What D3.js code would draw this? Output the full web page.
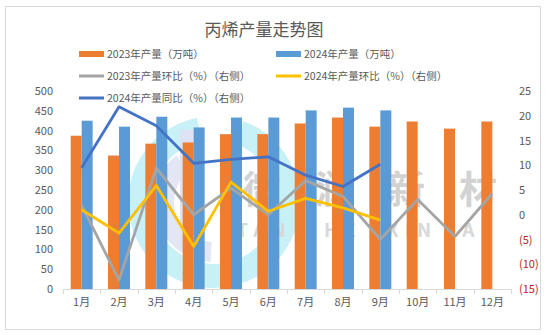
<!DOCTYPE html>
<html><head><meta charset="utf-8">
<script src="https://cdn.jsdelivr.net/npm/d3@7/dist/d3.min.js"></script>
<style>body{margin:0;background:#fff;}svg{display:block;font-family:"Noto Sans CJK SC","Noto Sans",sans-serif;}</style>
</head><body>
<svg id="c" width="546" height="335"></svg>
<script>
const months = ["1月","2月","3月","4月","5月","6月","7月","8月","9月","10月","11月","12月"];
const prod2023 = [387,337,367,370,391,391,418,433,410,423,405,423];
const prod2024 = [425,410,435,408,433,433,451,458,451];
const mom2023 = [1.9,-13.2,9.4,0,5.4,0,6.9,3.7,-5.0,3.1,-4.4,4.3];
const mom2024 = [1.0,-3.7,5.9,-6.4,6.6,0.7,3.3,1.4,-1.1];
const yoy2024 = [9.5,21.8,18.0,10.4,11.2,11.7,8.0,5.7,10.2];
const leftTicks = [0,50,100,150,200,250,300,350,400,450,500];
const rightTicks = [-15,-10,-5,0,5,10,15,20,25];

const svg = d3.select("#c");
const txt = "#595959";
svg.append("rect").attr("x",5.5).attr("y",6.5).attr("width",535).attr("height",323)
  .attr("fill","#fff").attr("stroke","#d9d9d9");

const x = d3.scaleBand().domain(months).range([63,511]);
const x1 = d3.scaleBand().domain(["a","b"]).range([0,x.bandwidth()]).paddingInner(0).paddingOuter(0.7);
const yL = d3.scaleLinear().domain([0,500]).range([289,91]);
const yR = d3.scaleLinear().domain([-15,25]).range([289,91]);

// watermark
const wm = svg.append("g");
wm.append("path").attr("transform","translate(214,202)")
  .attr("d", d3.arc().innerRadius(62).outerRadius(86).startAngle(0.35).endAngle(2*Math.PI-0.2)())
  .attr("fill","#c8f0f7");
wm.append("path").attr("transform","translate(214,202)")
  .attr("d", d3.arc().innerRadius(40).outerRadius(60).startAngle(3.2).endAngle(5.6)())
  .attr("fill","#e2e6f5");
wm.append("rect").attr("x",180).attr("y",130).attr("width",14).attr("height",120).attr("fill","#dde2f4");
const wmChars = ["微","润","新","材"];
wm.selectAll("text.wc").data(wmChars).join("text").attr("class","wc")
  .attr("x",(d,i)=>262+i*72).attr("y",203).attr("text-anchor","middle")
  .attr("font-size",38).attr("font-weight","bold").attr("fill","#d2d2d2").text(d=>d);
const wmWords = ["TAN","HE","XIN","CA"];
wm.selectAll("text.ww").data(wmWords).join("text").attr("class","ww")
  .attr("x",(d,i)=>[264,343,412,462][i]).attr("y",237).attr("text-anchor","middle")
  .attr("font-size",19).attr("font-weight","bold").attr("fill","#d8d8d8")
  .attr("letter-spacing",6).text(d=>d);

// bars
svg.append("g").selectAll("rect").data(prod2023).join("rect")
  .attr("x",(d,i)=>x(months[i])+x1("a")).attr("width",x1.bandwidth())
  .attr("y",d=>yL(d)).attr("height",d=>yL(0)-yL(d)).attr("fill","#ED7D31");
svg.append("g").selectAll("rect").data(prod2024).join("rect")
  .attr("x",(d,i)=>x(months[i])+x1("b")).attr("width",x1.bandwidth())
  .attr("y",d=>yL(d)).attr("height",d=>yL(0)-yL(d)).attr("fill","#5B9BD5");

// axis line & ticks
svg.append("line").attr("x1",63).attr("x2",511).attr("y1",289.5).attr("y2",289.5).attr("stroke","#d9d9d9");
svg.append("g").selectAll("line").data(d3.range(13)).join("line")
  .attr("x1",i=>Math.round(63+i*x.step())+0.5).attr("x2",i=>Math.round(63+i*x.step())+0.5)
  .attr("y1",289).attr("y2",294).attr("stroke","#d9d9d9");
svg.append("g").selectAll("text").data(months).join("text")
  .attr("x",d=>x(d)+x.bandwidth()/2).attr("y",306).attr("text-anchor","middle")
  .attr("font-size",11).attr("fill",txt).text(d=>d);

// lines
const line = data => d3.line().x((d,i)=>x(months[i])+x.bandwidth()/2).y(d=>yR(d))(data);
svg.append("path").attr("d",line(mom2023)).attr("fill","none").attr("stroke","#A5A5A5").attr("stroke-width",2.8).attr("stroke-linejoin","round");
svg.append("path").attr("d",line(mom2024)).attr("fill","none").attr("stroke","#FFC000").attr("stroke-width",2.8).attr("stroke-linejoin","round");
svg.append("path").attr("d",line(yoy2024)).attr("fill","none").attr("stroke","#4472C4").attr("stroke-width",2.8).attr("stroke-linejoin","round");

// y labels
svg.append("g").selectAll("text").data(leftTicks).join("text")
  .attr("x",53).attr("y",d=>yL(d)+4).attr("text-anchor","end")
  .attr("font-size",11).attr("fill",txt).text(d=>d);
svg.append("g").selectAll("text").data(rightTicks).join("text")
  .attr("x",519).attr("y",d=>yR(d)+4).attr("text-anchor","start")
  .attr("font-size",11).attr("fill",d=>d<0?"#B8262B":txt).text(d=>d<0?`(${-d})`:d);

// title
svg.append("text").attr("x",264).attr("y",36).attr("text-anchor","middle")
  .attr("font-size",17).attr("fill",txt).text("丙烯产量走势图");

// legend
const legend = [
  {label:"2023年产量（万吨）",color:"#ED7D31",type:"bar",x:79,y:54},
  {label:"2024年产量（万吨）",color:"#5B9BD5",type:"bar",x:276,y:54},
  {label:"2023年产量环比（%）（右侧）",color:"#A5A5A5",type:"line",x:79,y:76},
  {label:"2024年产量环比（%）（右侧）",color:"#FFC000",type:"line",x:276,y:76},
  {label:"2024年产量同比（%）（右侧）",color:"#4472C4",type:"line",x:79,y:98}
];
const lg = svg.append("g").selectAll("g").data(legend).join("g");
lg.append("rect").attr("x",d=>d.x).attr("width",25)
  .attr("y",d=>d.type==="bar"?d.y-3:d.y-1.5).attr("height",d=>d.type==="bar"?6:3).attr("fill",d=>d.color);
lg.append("text").attr("x",d=>d.x+28).attr("y",d=>d.y+4).attr("font-size",10.5).attr("fill",txt).text(d=>d.label);
</script>
</body></html>
